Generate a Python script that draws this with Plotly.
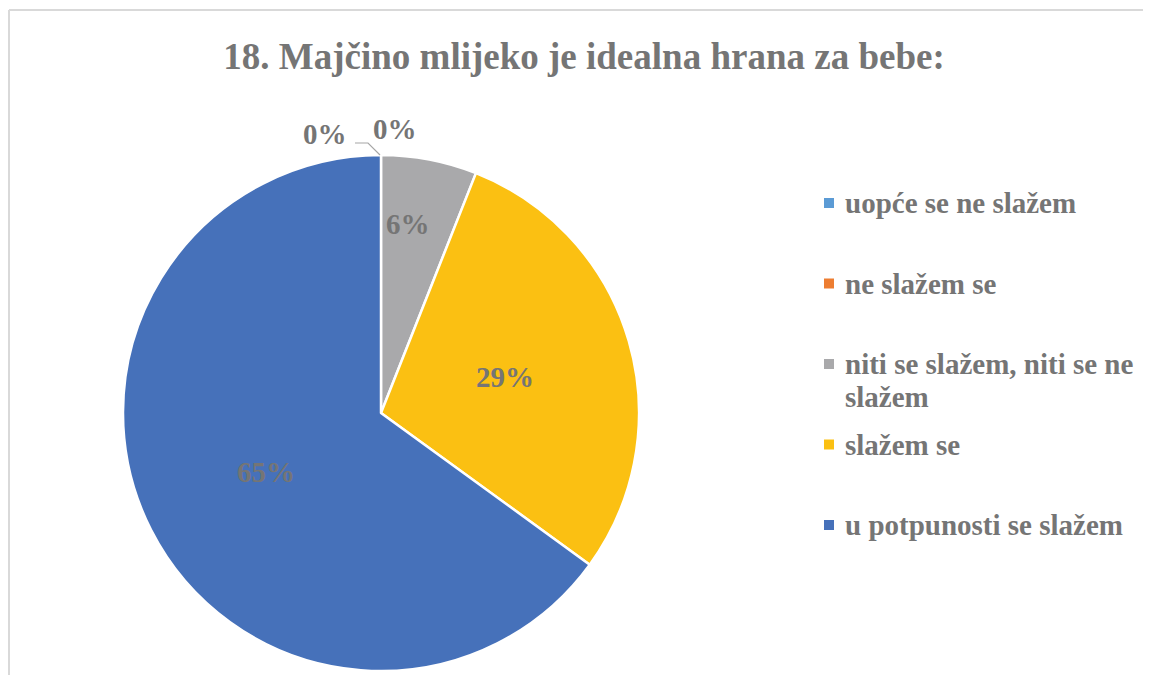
import math
import textwrap
import plotly.graph_objects as go

# ---- data ----
categories = [
    "uopće se ne slažem",
    "ne slažem se",
    "niti se slažem, niti se ne slažem",
    "slažem se",
    "u potpunosti se slažem",
]
values = [0, 0, 6, 29, 65]
colors = ["#5B9BD5", "#ED7D31", "#A9A9AB", "#FBC012", "#4671BA"]
title_text = "18. Majčino mlijeko je idealna hrana za bebe:"

OFF = 8  # page body margin in the browser
W, H = 1151 - OFF, 675 - OFF
TXT = "#757575"
FONT = "Liberation Serif, Times New Roman, serif"


def px(x):
    return (x - OFF) / W


def py(y):
    return 1 - (y - OFF) / H


total = sum(values)
pct = [f"{round(v / total * 100)}%" for v in values]

# pie geometry (screen pixels)
cx, cy, r = 381, 413, 258

fig = go.Figure()
fig.add_trace(go.Pie(
    labels=categories,
    values=values,
    sort=False,
    direction="clockwise",
    rotation=0,
    marker=dict(colors=colors, line=dict(color="white", width=2.5)),
    textinfo="none",
    domain=dict(x=[px(cx - r), px(cx + r)], y=[max(0, py(cy + r)), py(cy - r)]),
    showlegend=False,
    hoverinfo="label+percent",
))

annotations = []
shapes = []

# data labels inside slices, placed at slice mid-angle
cum = 0
for p, v in zip(pct, values):
    if v > 0:
        frac = v / total
        mid = (cum + v / 2) / total * 2 * math.pi
        rf = 0.5 if frac > 0.1 else 0.74
        ang = mid - 0.045 if frac <= 0.1 else mid
        x = cx + rf * r * math.sin(ang)
        y = cy - rf * r * math.cos(ang)
        annotations.append(dict(
            x=px(x), y=py(y), xref="paper", yref="paper", text=f"<b>{p}</b>",
            showarrow=False, xanchor="center", yanchor="middle",
            font=dict(family=FONT, size=29, color=TXT)))
    cum += v

# labels for zero-valued slices (placed above the pie top)
zero_pos = [(325, 134), (395, 129)]
zi = 0
for p, v in zip(pct, values):
    if v == 0 and zi < len(zero_pos):
        x, y = zero_pos[zi]
        annotations.append(dict(
            x=px(x), y=py(y), xref="paper", yref="paper", text=f"<b>{p}</b>",
            showarrow=False, xanchor="center", yanchor="middle",
            font=dict(family=FONT, size=29, color=TXT)))
        zi += 1
# leader line
shapes.append(dict(type="path", xref="paper", yref="paper",
                   path=f"M {px(355)} {py(143)} L {px(368)} {py(143)} L {px(380)} {py(155)}",
                   line=dict(color="#A6A6A6", width=1.2)))

# legend
leg_y0, leg_step, line_h = 203, 80.5, 33
for i, (lab, col) in enumerate(zip(categories, colors)):
    yc = leg_y0 + i * leg_step
    shapes.append(dict(type="rect", xref="paper", yref="paper",
                       x0=px(824), x1=px(834), y0=py(yc - 5), y1=py(yc + 5),
                       fillcolor=col, line=dict(width=0)))
    for j, line in enumerate(textwrap.wrap(lab, 26)):
        annotations.append(dict(
            x=px(843), y=py(yc + j * line_h), xref="paper", yref="paper",
            text=f"<b>{line}</b>", showarrow=False, xanchor="left", yanchor="middle",
            font=dict(family=FONT, size=29, color=TXT)))

# chart border (left and top edges)
shapes.append(dict(type="line", xref="paper", yref="paper",
                   x0=px(9), x1=px(9), y0=py(675), y1=py(10),
                   line=dict(color="#D9D9D9", width=2)))
shapes.append(dict(type="line", xref="paper", yref="paper",
                   x0=px(9), x1=px(1151), y0=py(10), y1=py(10),
                   line=dict(color="#D9D9D9", width=2)))

fig.update_layout(
    width=W, height=H,
    margin=dict(l=0, r=0, t=0, b=0),
    paper_bgcolor="white",
    plot_bgcolor="white",
    title=dict(text=f"<b>{title_text}</b>", x=px(584), y=py(56),
               xanchor="center", yanchor="middle",
               font=dict(family=FONT, size=37, color=TXT)),
    annotations=annotations,
    shapes=shapes,
)

fig.write_html(
    "out.html",
    config={"displayModeBar": False},
    post_script="document.documentElement.style.overflow='hidden';document.body.style.overflow='hidden';",
)
